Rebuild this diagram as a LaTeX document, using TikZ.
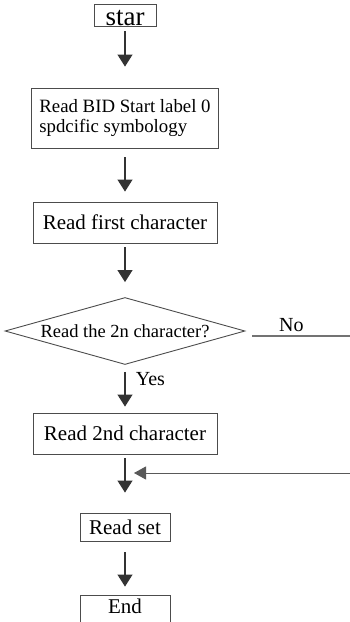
\documentclass[tikz,border=0pt]{standalone}
\usepackage{fontspec}
\setmainfont{Liberation Serif}
\usetikzlibrary{shapes.geometric,arrows.meta}

\begin{document}
\begin{tikzpicture}[x=1pt, y=-1pt,
	box/.style={draw=black!70, line width=0.9pt, inner sep=0pt, font=\fontsize{21}{24}\selectfont},
	arr/.style={draw=black!80, line width=1.1pt, -{Triangle[length=12pt,width=15pt]}},
	lbl/.style={font=\fontsize{20}{22}\selectfont}]
	\useasboundingbox (0,0) rectangle (350,622);
	% kaestchen
	\node[box, minimum width=62pt, minimum height=22pt, text height=20pt, text depth=0pt, font=\fontsize{27}{27}\selectfont] (star) at (125,15) {star};
	\node[box, minimum width=187pt, minimum height=60pt, align=left, font=\fontsize{18.8}{20}\selectfont] (bid) at (125,118) {Read BID Start label 0\\spdcific symbology};
	\node[box, minimum width=184pt, minimum height=41pt] (first) at (125,222.5) {Read first character};
	\node[box, diamond, aspect=3.58, minimum width=240pt, minimum height=67pt, font=\fontsize{18.5}{20}\selectfont] (ask) at (125,331) {Read the 2n character?};
	\node[box, minimum width=184pt, minimum height=41pt] (second) at (125,433.5) {Read 2nd character};
	\node[box, minimum width=90pt, minimum height=28pt] (set) at (125,527) {Read set};
	\node[box, minimum width=90pt, minimum height=28pt, text height=14pt, text depth=6pt] (end) at (125,609) {End};
	% pfeile
	\draw[arr, shorten <=5pt, shorten >=21pt] (star) -- (bid);
	\draw[arr, shorten <=9pt, shorten >=10pt] (bid) -- (first);
	\draw[arr, shorten <=4pt, shorten >=15pt] (first) -- (ask);
	\draw[arr, shorten <=7pt, shorten >=6pt] (ask) -- node[lbl, right, pos=0.3, xshift=7pt] {Yes} (second);
	\draw[arr, shorten <=4pt, shorten >=20pt] (second) -- (set);
	\draw[arr, shorten <=11pt, shorten >=8pt] (set) -- (end);
	% nein-zweig und ruecksprung
	\coordinate (noend) at (350,336);
	\draw[black!55, line width=1.6pt] ([shift={(7,5)}]ask.east) -- node[lbl, above, pos=0.4, black] {No} (noend);
	\coordinate (back) at (350,473);
	\coordinate (merge) at (125,473);
	\draw[arr, draw=black!65, line width=0.9pt, -{Triangle[length=12pt,width=13pt]}, shorten >=9pt] (back) -- (merge);
\end{tikzpicture}
\end{document}
